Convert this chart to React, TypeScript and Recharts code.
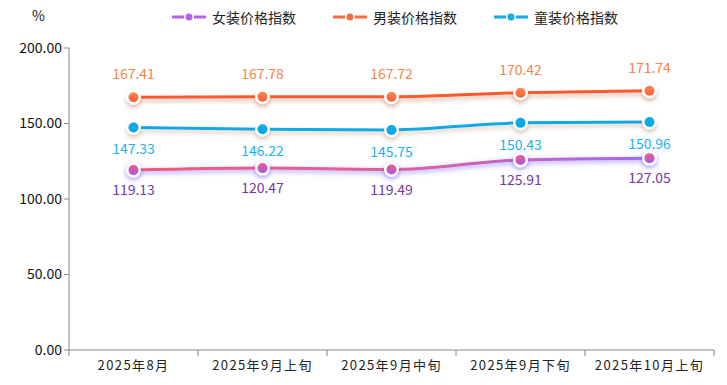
import * as React from "react";
import { LineChart, Line, XAxis, YAxis, LabelList } from "recharts";

const categories = ["2025年8月", "2025年9月上旬", "2025年9月中旬", "2025年9月下旬", "2025年10月上旬"];
const womenIndex = [119.13, 120.47, 119.49, 125.91, 127.05];
const menIndex = [167.41, 167.78, 167.72, 170.42, 171.74];
const kidsIndex = [147.33, 146.22, 145.75, 150.43, 150.96];
const yTicks = [0, 50, 100, 150, 200];

const data = categories.map((name, i) => ({
  name,
  women: womenIndex[i],
  men: menIndex[i],
  kids: kidsIndex[i],
}));

const FONT = '"Noto Sans CJK SC", "Noto Sans", sans-serif';

const legendItems = [
  { label: "女装价格指数", color: "#b562e6", left: 172 },
  { label: "男装价格指数", color: "#ff6a3d", left: 333 },
  { label: "童装价格指数", color: "#0eaee8", left: 494 },
];

function makeDot(fill: string, shadow: string) {
  return (props: any) => {
    const { cx, cy, index } = props;
    if (cx == null || cy == null) return null;
    return (
      <g key={`dot-${index}`}>
        <circle cx={cx} cy={cy} r={7.5} fill="#fff" filter={`url(#${shadow})`} />
        <circle cx={cx} cy={cy} r={5} fill={fill} />
      </g>
    );
  };
}

function XTick(props: any) {
  const { x, y, payload, index } = props;
  const half = payload?.offset ?? 64.5;
  return (
    <g>
      <line x1={x - half} y1={y - 8} x2={x - half} y2={y - 2} stroke="#888" />
      {index === categories.length - 1 && (
        <line x1={x + half} y1={y - 8} x2={x + half} y2={y - 2} stroke="#888" />
      )}
      <text x={x} y={y + 12} textAnchor="middle" fontSize={13} fill="#222" fontFamily={FONT} letterSpacing={1.4}>
        {payload.value}
      </text>
    </g>
  );
}

const fmt = (v: any) => Number(v).toFixed(2);

export default function App() {
  return (
    <div style={{ position: "absolute", left: 0, top: 0, width: 727, height: 385, background: "#fff" }}>
      <div style={{ position: "absolute", left: 32, top: 5, fontSize: 14, fontFamily: FONT, color: "#222" }}>%</div>
      {legendItems.map((it) => (
        <div
          key={it.label}
          style={{
            position: "absolute",
            left: it.left,
            top: 7,
            display: "flex",
            alignItems: "center",
            fontSize: 14,
            fontFamily: FONT,
            color: "#222",
          }}
        >
          <svg width={36} height={10} style={{ marginRight: 4 }}>
            <line x1={0} y1={5} x2={34} y2={5} stroke={it.color} strokeWidth={3} />
            <circle cx={17} cy={5} r={5} fill="#fff" />
            <circle cx={17} cy={5} r={3.5} fill={it.color} />
          </svg>
          {it.label}
        </div>
      ))}
      <LineChart width={727} height={385} data={data} margin={{ top: 48, right: 13, left: 9, bottom: 0 }}>
        <defs>
          <linearGradient id="womenLine" x1="0" y1="0" x2="1" y2="0">
            <stop offset="0%" stopColor="#f05a78" />
            <stop offset="50%" stopColor="#e0609a" />
            <stop offset="100%" stopColor="#9d6cf5" />
          </linearGradient>
          <linearGradient id="womenDot" x1="0" y1="0" x2="0" y2="1">
            <stop offset="0%" stopColor="#ec5a8a" />
            <stop offset="100%" stopColor="#a958e8" />
          </linearGradient>
          <linearGradient id="menDot" x1="0" y1="0" x2="0" y2="1">
            <stop offset="0%" stopColor="#ff8a5a" />
            <stop offset="100%" stopColor="#ff5a30" />
          </linearGradient>
          <filter id="shMen" x="-20%" y="-100%" width="140%" height="300%">
            <feDropShadow dx={0} dy={3} stdDeviation={2} floodColor="#b05a30" floodOpacity={0.4} />
          </filter>
          <filter id="shKids" x="-20%" y="-100%" width="140%" height="300%">
            <feDropShadow dx={0} dy={3} stdDeviation={2} floodColor="#a07040" floodOpacity={0.35} />
          </filter>
          <filter id="shWomen" x="-20%" y="-100%" width="140%" height="300%">
            <feDropShadow dx={0} dy={2} stdDeviation={2.5} floodColor="#6a50ff" floodOpacity={0.6} />
          </filter>
        </defs>
        <XAxis
          dataKey="name"
          scale="band"
          stroke="#888"
          tickLine={false}
          tick={<XTick />}
          height={35}
          interval={0}
        />
        <YAxis
          domain={[0, 200]}
          ticks={yTicks}
          width={60}
          stroke="#888"
          tickSize={5}
          tickFormatter={(v: number) => v.toFixed(2)}
          tick={{ fill: "#111", fontSize: 14, fontFamily: FONT }}
        />
        <Line
          type="monotone"
          dataKey="men"
          stroke="#ff5a2e"
          strokeWidth={3}
          filter="url(#shMen)"
          dot={makeDot("url(#menDot)", "shMen")}
          activeDot={false}
          isAnimationActive={false}
        >
          <LabelList dataKey="men" position="top" offset={18} fill="#f5844a" fontSize={14} fontFamily={FONT} formatter={fmt} />
        </Line>
        <Line
          type="monotone"
          dataKey="kids"
          stroke="#0aaae6"
          strokeWidth={3}
          filter="url(#shKids)"
          dot={makeDot("#0aaae6", "shKids")}
          activeDot={false}
          isAnimationActive={false}
        >
          <LabelList dataKey="kids" position="bottom" offset={17} fill="#1ab2ee" fontSize={14} fontFamily={FONT} formatter={fmt} />
        </Line>
        <Line
          type="monotone"
          dataKey="women"
          stroke="url(#womenLine)"
          strokeWidth={3}
          filter="url(#shWomen)"
          dot={makeDot("url(#womenDot)", "shWomen")}
          activeDot={false}
          isAnimationActive={false}
        >
          <LabelList dataKey="women" position="bottom" offset={15} fill="#7438a8" fontSize={14} fontFamily={FONT} formatter={fmt} />
        </Line>
      </LineChart>
    </div>
  );
}
